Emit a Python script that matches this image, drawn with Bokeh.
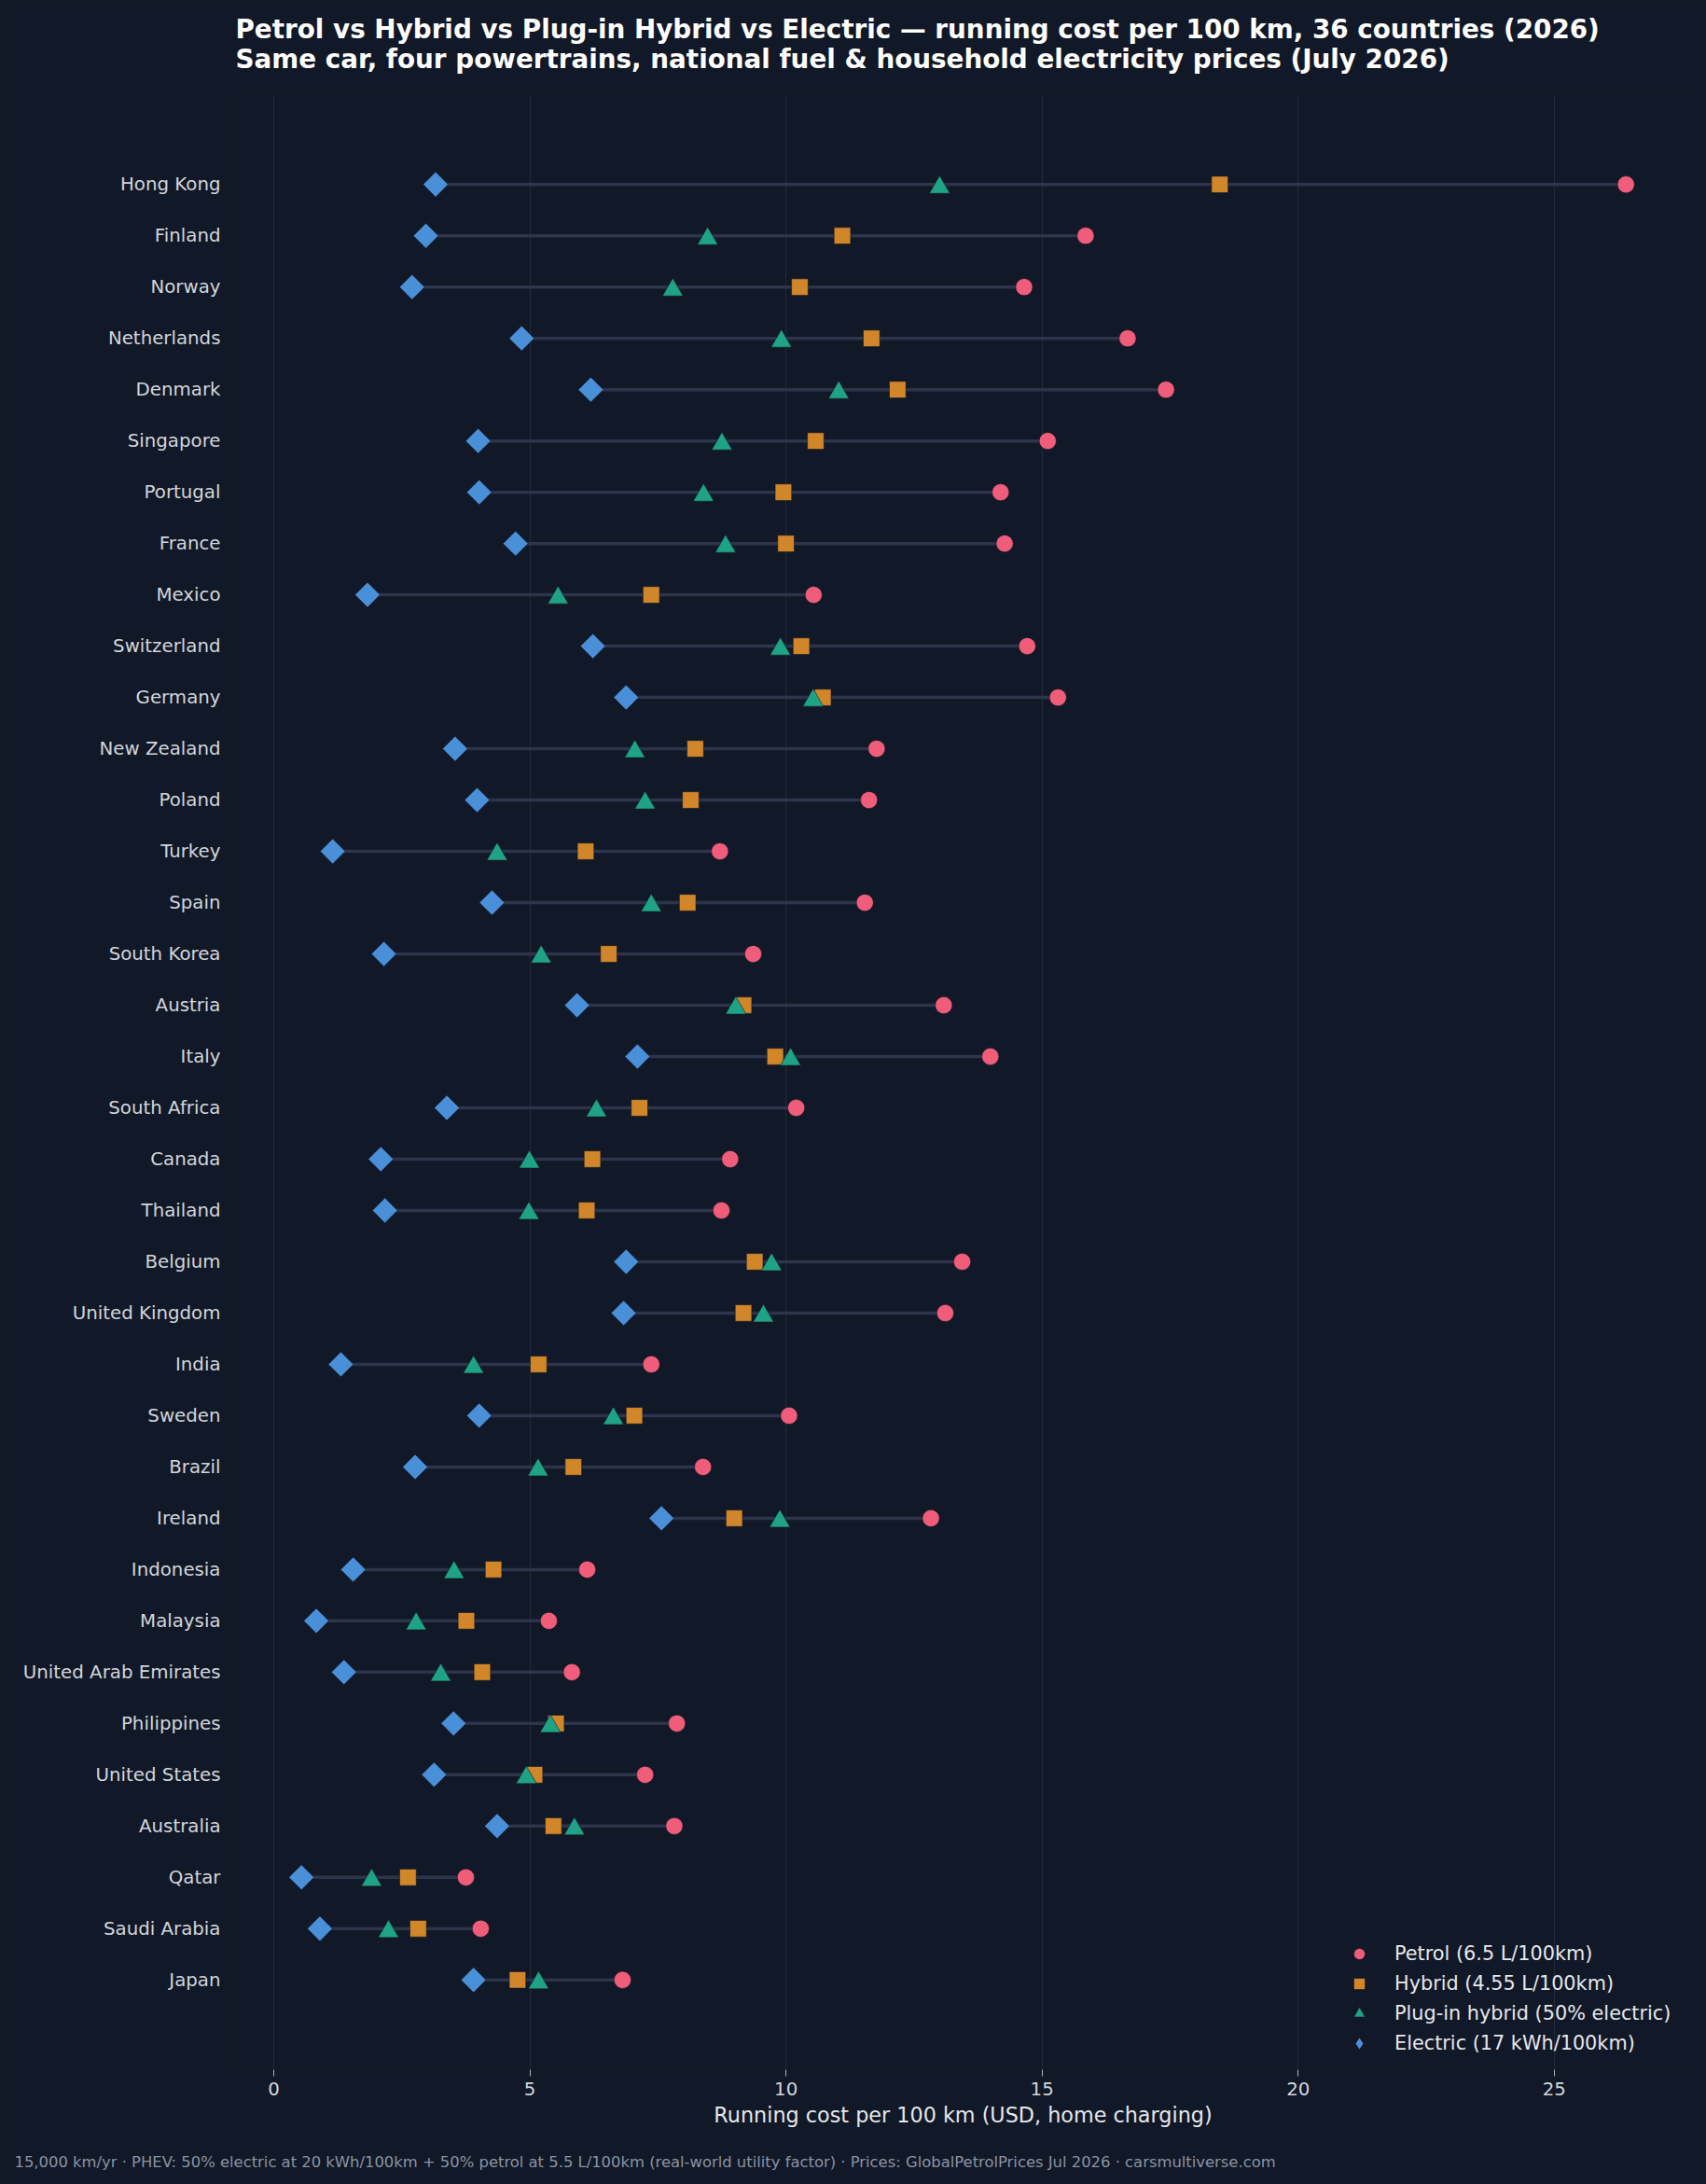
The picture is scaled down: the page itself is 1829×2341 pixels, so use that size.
import math

from bokeh.embed import file_html
from bokeh.models import (ColumnDataSource, FactorRange, FixedTicker, Label,
                          Legend, LegendItem, Range1d)
from bokeh.plotting import figure
from bokeh.resources import INLINE
from bokeh.transform import dodge

# Countries, listed from the most to the least expensive row (top to bottom)
countries = [
    "Hong Kong", "Finland", "Norway", "Netherlands", "Denmark", "Singapore",
    "Portugal", "France", "Mexico", "Switzerland", "Germany", "New Zealand",
    "Poland", "Turkey", "Spain", "South Korea", "Austria", "Italy",
    "South Africa", "Canada", "Thailand", "Belgium", "United Kingdom", "India",
    "Sweden", "Brazil", "Ireland", "Indonesia", "Malaysia",
    "United Arab Emirates", "Philippines", "United States", "Australia",
    "Qatar", "Saudi Arabia", "Japan",
]

# Running cost per 100 km, USD
petrol = [
    26.40, 15.85, 14.65, 16.67, 17.42, 15.11, 14.19, 14.27, 10.54, 14.71,
    15.31, 11.77, 11.62, 8.71, 11.54, 9.36, 13.08, 13.99, 10.20, 8.91,
    8.74, 13.44, 13.11, 7.37, 10.06, 8.38, 12.83, 6.12, 5.37, 5.82,
    7.87, 7.25, 7.82, 3.75, 4.04, 6.81,
]
hybrid = [
    18.47, 11.10, 10.27, 11.67, 12.18, 10.58, 9.95, 10.00, 7.37, 10.30,
    10.72, 8.23, 8.14, 6.09, 8.08, 6.54, 9.17, 9.79, 7.14, 6.22,
    6.11, 9.39, 9.17, 5.17, 7.04, 5.85, 8.99, 4.29, 3.76, 4.07,
    5.51, 5.09, 5.46, 2.62, 2.82, 4.76,
]
plugin_hybrid = [
    13.00, 8.47, 7.79, 9.91, 11.03, 8.75, 8.39, 8.82, 5.55, 9.89,
    10.53, 7.05, 7.25, 4.36, 7.37, 5.22, 9.02, 10.09, 6.30, 4.99,
    4.98, 9.72, 9.56, 3.90, 6.63, 5.16, 9.88, 3.52, 2.78, 3.26,
    5.40, 4.93, 5.87, 1.91, 2.24, 5.17,
]
electric = [
    3.16, 2.97, 2.70, 4.84, 6.19, 3.99, 4.01, 4.72, 1.83, 6.23,
    6.88, 3.54, 3.97, 1.15, 4.26, 2.15, 5.92, 7.10, 3.38, 2.09,
    2.17, 6.88, 6.83, 1.31, 4.01, 2.76, 7.57, 1.55, 0.83, 1.37,
    3.51, 3.13, 4.36, 0.54, 0.90, 3.90,
]

series_labels = [
    "Petrol (6.5 L/100km)",
    "Hybrid (4.55 L/100km)",
    "Plug-in hybrid (50% electric)",
    "Electric (17 kWh/100km)",
]
x_ticks = [0, 5, 10, 15, 20, 25]

title_line1 = ("Petrol vs Hybrid vs Plug-in Hybrid vs Electric \u2014 running cost "
               "per 100 km, 36 countries (2026)")
title_line2 = ("Same car, four powertrains, national fuel & household electricity "
               "prices (July 2026)")
x_label = "Running cost per 100 km (USD, home charging)"
footnote = ("15,000 km/yr \u00b7 PHEV: 50% electric at 20 kWh/100km + 50% petrol at "
            "5.5 L/100km (real-world utility factor) \u00b7 Prices: GlobalPetrolPrices "
            "Jul 2026 \u00b7 carsmultiverse.com")

# Palette
BG = "#111827"
GRID = "#232a3a"
STEM = "#2d344b"
C_PETROL = "#ef5d7a"
C_HYBRID = "#d18729"
C_PHEV = "#1fa386"
C_EV = "#4a90d9"
FONT = "DejaVu Sans"

src = ColumnDataSource(dict(
    country=countries,
    petrol=petrol,
    hybrid=hybrid,
    phev=plugin_hybrid,
    electric=electric,
))

p = figure(
    width=1829, height=2341,
    output_backend="svg", toolbar_location=None,
    x_range=Range1d(-0.765, 27.68),
    y_range=FactorRange(factors=list(reversed(countries)),
                        range_padding=1.25, range_padding_units="absolute"),
    min_border_left=251, min_border_right=16,
    min_border_top=101, min_border_bottom=123,
)
p.background_fill_color = BG
p.border_fill_color = BG
p.outline_line_color = None
p.styles = {"background-color": BG}

# Stem from the cheapest (electric) to the dearest (petrol) option
p.segment(x0="electric", y0="country", x1="petrol", y1="country", source=src,
          line_color=STEM, line_width=3.5)

r_pet = p.scatter("petrol", "country", source=src, marker="circle", size=18.3,
                  fill_color=C_PETROL, line_color=BG, line_width=0.6)
r_hyb = p.scatter("hybrid", "country", source=src, marker="square", size=17.7,
                  fill_color=C_HYBRID, line_color=BG, line_width=0.6)
r_phev = p.scatter("phev", dodge("country", -0.058, range=p.y_range), source=src,
                   marker="triangle", size=22,
                   fill_color=C_PHEV, line_color=BG, line_width=0.6)
# Electric: a narrow diamond (used as the legend key) sits fully inside the
# square turned 45 degrees that is drawn over it
r_ev_key = p.scatter("electric", "country", source=src, marker="diamond", size=19,
                     fill_color=C_EV, line_color=None)
r_ev = p.scatter("electric", "country", source=src, marker="square",
                 angle=math.pi / 4, size=19,
                 fill_color=C_EV, line_color=BG, line_width=0.6)

# Axes
p.xaxis.ticker = FixedTicker(ticks=x_ticks)
p.xaxis.axis_line_color = None
p.xaxis.major_tick_out = 7
p.xaxis.major_tick_in = 0
p.xaxis.minor_tick_line_color = None
p.xaxis.major_tick_line_color = "#aab1bd"
p.xaxis.major_label_standoff = 6
p.xaxis.major_label_text_font = FONT
p.xaxis.major_label_text_font_size = "19.8px"
p.xaxis.major_label_text_color = "#d1d5db"
p.xaxis.axis_label = x_label
p.xaxis.axis_label_text_font = FONT
p.xaxis.axis_label_text_font_size = "22.3px"
p.xaxis.axis_label_text_font_style = "normal"
p.xaxis.axis_label_text_color = "#e5e7eb"
p.xaxis.axis_label_standoff = 5

p.yaxis.axis_line_color = None
p.yaxis.major_tick_line_color = None
p.yaxis.minor_tick_line_color = None
p.yaxis.major_tick_out = 0
p.yaxis.major_tick_in = 0
p.yaxis.major_label_standoff = 15
p.yaxis.major_label_text_font = FONT
p.yaxis.major_label_text_font_size = "19.8px"
p.yaxis.major_label_text_color = "#d1d5db"

p.xgrid.ticker = FixedTicker(ticks=x_ticks)
p.xgrid.grid_line_color = GRID
p.xgrid.grid_line_width = 1
p.ygrid.grid_line_color = None

# Legend, lower right inside the frame
legend = Legend(
    items=[
        LegendItem(label=series_labels[0], renderers=[r_pet]),
        LegendItem(label=series_labels[1], renderers=[r_hyb]),
        LegendItem(label=series_labels[2], renderers=[r_phev]),
        LegendItem(label=series_labels[3], renderers=[r_ev_key]),
    ],
    location=(1181, 2),
    glyph_width=30, glyph_height=32, label_height=32, spacing=0,
    label_standoff=23, padding=10, margin=0,
    label_text_font=FONT, label_text_font_size="20.8px",
    label_text_color="#e5e7eb",
    background_fill_alpha=0, border_line_alpha=0,
)
p.add_layout(legend)

# Title block above the frame, footnote below the axis (canvas coordinates)
p.add_layout(Label(x=252, y=30.5, x_units="canvas", y_units="canvas",
                   text=title_line1, text_font=FONT, text_font_size="27.8px",
                   text_font_style="bold", text_color="#ffffff",
                   text_baseline="alphabetic"), "above")
p.add_layout(Label(x=252, y=62.5, x_units="canvas", y_units="canvas",
                   text=title_line2, text_font=FONT, text_font_size="27.8px",
                   text_font_style="bold", text_color="#ffffff",
                   text_baseline="alphabetic"), "above")
p.add_layout(Label(x=15, y=2317, x_units="canvas", y_units="canvas",
                   text=footnote, text_font=FONT, text_font_size="16.4px",
                   text_color="#8b93a3", text_baseline="alphabetic"), "below")

open("out.html", "w").write(file_html(p, INLINE))
